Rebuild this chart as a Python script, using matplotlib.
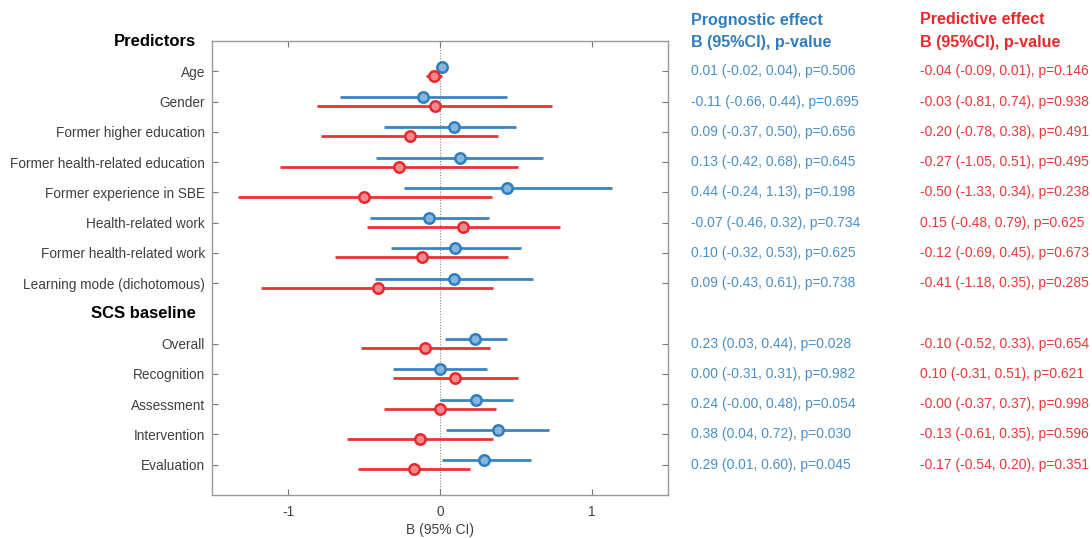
import matplotlib
matplotlib.use("Agg")
import matplotlib.pyplot as plt
import matplotlib.transforms as mtransforms

plt.rcParams['font.family'] = ['Liberation Sans', 'DejaVu Sans']

# ---- data ----
group_headers = ["Predictors", "SCS baseline"]
predictors = ["Age", "Gender", "Former higher education", "Former health-related education",
              "Former experience in SBE", "Health-related work", "Former health-related work",
              "Learning mode (dichotomous)"]
scs = ["Overall", "Recognition", "Assessment", "Intervention", "Evaluation"]

prog_b  = [0.01, -0.11, 0.09, 0.13, 0.44, -0.07, 0.10, 0.09, 0.23, 0.00, 0.24, 0.38, 0.29]
prog_lo = [-0.02, -0.66, -0.37, -0.42, -0.24, -0.46, -0.32, -0.43, 0.03, -0.31, -0.0, 0.04, 0.01]
prog_hi = [0.04, 0.44, 0.50, 0.68, 1.13, 0.32, 0.53, 0.61, 0.44, 0.31, 0.48, 0.72, 0.60]
prog_p  = [0.506, 0.695, 0.656, 0.645, 0.198, 0.734, 0.625, 0.738, 0.028, 0.982, 0.054, 0.030, 0.045]

pred_b  = [-0.04, -0.03, -0.20, -0.27, -0.50, 0.15, -0.12, -0.41, -0.10, 0.10, -0.0, -0.13, -0.17]
pred_lo = [-0.09, -0.81, -0.78, -1.05, -1.33, -0.48, -0.69, -1.18, -0.52, -0.31, -0.37, -0.61, -0.54]
pred_hi = [0.01, 0.74, 0.38, 0.51, 0.34, 0.79, 0.45, 0.35, 0.33, 0.51, 0.37, 0.35, 0.20]
pred_p  = [0.146, 0.938, 0.491, 0.495, 0.238, 0.625, 0.673, 0.285, 0.654, 0.621, 0.998, 0.596, 0.351]

xticks = [-1, 0, 1]

# ---- layout ----
header_rows = [0, 1 + len(predictors)]
item_rows = list(range(1, 1 + len(predictors))) + \
            list(range(2 + len(predictors), 2 + len(predictors) + len(scs)))
labels = predictors + scs
nrows = 2 + len(predictors) + len(scs)

BLUE = "#2f7dbf"
BLUE_FILL = "#86b6dc"
BLUE_TXT = "#4a90c8"
RED = "#e8282c"
RED_FILL = "#f08a8c"
RED_TXT = "#e8383a"
off = 0.15

fig = plt.figure(figsize=(10.92, 5.38), dpi=100)
ax = fig.add_axes([212/1092, 1 - 495/538, (668-212)/1092, (495-41)/538])

ax.axvline(0, color="#888888", lw=0.8, ls=(0, (1, 1.5)), zorder=1)

for r, b, lo, hi in zip(item_rows, prog_b, prog_lo, prog_hi):
    y = r - off
    ax.plot([lo, hi], [y, y], color=BLUE, lw=2.0, alpha=0.95, solid_capstyle='butt', zorder=2)
    ax.plot([b], [y], 'o', ms=7.5, mfc=BLUE_FILL, mec=BLUE, mew=1.8, zorder=3)
for r, b, lo, hi in zip(item_rows, pred_b, pred_lo, pred_hi):
    y = r + off
    ax.plot([lo, hi], [y, y], color=RED, lw=2.0, alpha=0.95, solid_capstyle='butt', zorder=2)
    ax.plot([b], [y], 'o', ms=7.5, mfc=RED_FILL, mec=RED, mew=1.8, zorder=3)

ax.set_xlim(-1.5, 1.5)
ax.set_ylim(nrows, 0)
ax.set_xticks(xticks)
ax.set_xticklabels([str(t) for t in xticks])
ax.set_yticks(item_rows)
ax.set_yticklabels(labels)
ax.tick_params(axis='both', direction='in', length=4.5, width=0.8, color="#777777",
               labelcolor="#404040", labelsize=9.8, top=True, right=True)
ax.tick_params(axis='y', pad=5)
ax.tick_params(axis='x', pad=7)
for s in ax.spines.values():
    s.set_color("#999999")
    s.set_linewidth(1.0)
ax.set_xlabel("B (95% CI)", fontsize=10, color="#404040", labelpad=3)

trans = mtransforms.blended_transform_factory(ax.transAxes, ax.transData)
for r, h in zip(header_rows, group_headers):
    ax.text(-0.035, r, h, transform=trans, ha='right', va='center',
            fontsize=12, fontweight='bold', color="black")

# ---- right-hand text columns ----
def fmt(v):
    return f"{v:.2f}"

x_blue = 691 / 1092
x_red = 920 / 1092
hfs = 11.6
fig.text(x_blue, 1 - 20/538, "Prognostic effect", color=BLUE, fontsize=hfs,
         fontweight='bold', ha='left', va='center')
fig.text(x_blue, 1 - 42/538, "B (95%CI), p-value", color=BLUE, fontsize=hfs,
         fontweight='bold', ha='left', va='center')
fig.text(x_red, 1 - 20/538, "Predictive effect", color=RED, fontsize=hfs,
         fontweight='bold', ha='left', va='center')
fig.text(x_red, 1 - 42/538, "B (95%CI), p-value", color=RED, fontsize=hfs,
         fontweight='bold', ha='left', va='center')

ftrans = mtransforms.blended_transform_factory(fig.transFigure, ax.transData)
for i, r in enumerate(item_rows):
    s1 = f"{fmt(prog_b[i])} ({fmt(prog_lo[i])}, {fmt(prog_hi[i])}), p={prog_p[i]:.3f}"
    s2 = f"{fmt(pred_b[i])} ({fmt(pred_lo[i])}, {fmt(pred_hi[i])}), p={pred_p[i]:.3f}"
    fig.text(x_blue, r, s1, transform=ftrans, color=BLUE_TXT, fontsize=10,
             ha='left', va='center')
    fig.text(x_red, r, s2, transform=ftrans, color=RED_TXT, fontsize=10,
             ha='left', va='center')

fig.savefig("out.png", dpi=100)
